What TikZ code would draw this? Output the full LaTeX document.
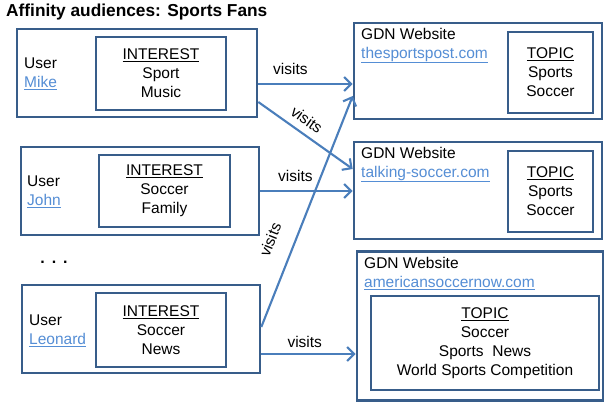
\documentclass[tikz,border=0pt]{standalone}
\usepackage{fontspec}
\setmainfont{Liberation Sans}
\usetikzlibrary{arrows.meta}
\definecolor{bord}{HTML}{385D8A}
\definecolor{arrc}{HTML}{4A7EBB}
\definecolor{lnk}{HTML}{558ED5}
\newcommand{\lnkt}[1]{\textcolor{lnk}{\underline{#1}}}
\begin{document}
\begin{tikzpicture}[x=1pt,y=-1pt,
  every node/.style={font=\fontsize{15.5}{19}\selectfont, inner sep=0pt},
  box/.style={draw=bord, line width=2.6pt, fill=white, align=center},
  lbl/.style={align=left, anchor=west},
  conn/.style={draw=arrc, line width=2.1pt, -{Straight Barb[length=7pt,width=14pt]}},
  lab/.style={inner sep=0pt, sloped}]
\useasboundingbox (0,0) rectangle (604,403);
\node[anchor=west, font=\fontsize{17.3}{20}\selectfont\bfseries] (title) at (6,12) {Affinity audiences: Sports Fans};

% users
\node[box, minimum width=240pt, minimum height=88pt] (mike) at (137,73) {};
\node[box, minimum width=130pt, minimum height=73pt] (mikei) at (161,73.5) {\underline{INTEREST}\\Sport\\Music};
\node[lbl] (mikeu) at (24,73.5) {User\\\lnkt{Mike}};

\node[box, minimum width=238pt, minimum height=88pt] (john) at (140,191) {};
\node[box, minimum width=131pt, minimum height=72pt] (johni) at (164.5,191) {\underline{INTEREST}\\Soccer\\Family};
\node[lbl] (johnu) at (27,191.5) {User\\\lnkt{John}};

\node[font=\fontsize{16}{19}\selectfont\bfseries] (dots) at (54,262) {.\hspace{7pt}.\hspace{7pt}.};

\node[box, minimum width=238pt, minimum height=88pt] (leo) at (141,329) {};
\node[box, minimum width=130pt, minimum height=74pt] (leoi) at (161,330) {\underline{INTEREST}\\Soccer\\News};
\node[lbl] (leou) at (29,330.5) {User\\\lnkt{Leonard}};

% sites
\node[box, minimum width=248pt, minimum height=96pt] (site1) at (478,71) {};
\node[box, minimum width=85pt, minimum height=81pt] (top1) at (550.5,72.5) {\underline{TOPIC}\\Sports\\Soccer};
\node[lbl] (site1t) at (361,45.5) {GDN Website\\\lnkt{thesportspost.com}};

\node[box, minimum width=248pt, minimum height=97pt] (site2) at (478,190.5) {};
\node[box, minimum width=85pt, minimum height=81pt] (top2) at (550.5,191.5) {\underline{TOPIC}\\Sports\\Soccer};
\node[lbl] (site2t) at (361,164.5) {GDN Website\\\lnkt{talking-soccer.com}};

\node[box, minimum width=246pt, minimum height=149pt] (site3) at (480,326) {};
\node[box, minimum width=228pt, minimum height=94pt] (top3) at (485,343) {\underline{TOPIC}\\Soccer\\Sports\ \ News\\World Sports Competition};
\node[lbl] (site3t) at (364,273.5) {GDN Website\\\lnkt{americansoccernow.com}};

% connectors
\draw[conn] ([yshift=-11pt]mike.east) -- ([yshift=-11pt]mike.east -| site1.west)
  node[lab, pos=0.34, above=8.5pt] {visits};
\draw[conn] ([yshift=-29pt]mike.east) -- ([yshift=21.5pt]site2.west)
  node[lab, pos=0.43, above=7pt] {visits};
\draw[conn] ([yshift=0pt]john.east) -- ([yshift=0pt]john.east -| site2.west)
  node[lab, pos=0.38, above=8.5pt] {visits};
\draw[conn] ([yshift=2pt]leo.east) -- ([yshift=-25pt]site1.west)
  node[lab, pos=0.34, above=17pt] {visits};
\draw[conn] ([yshift=-25pt]leo.east) -- ([yshift=-25pt]leo.east -| site3.west)
  node[lab, pos=0.46, above=5.5pt] {visits};
\end{tikzpicture}
\end{document}
